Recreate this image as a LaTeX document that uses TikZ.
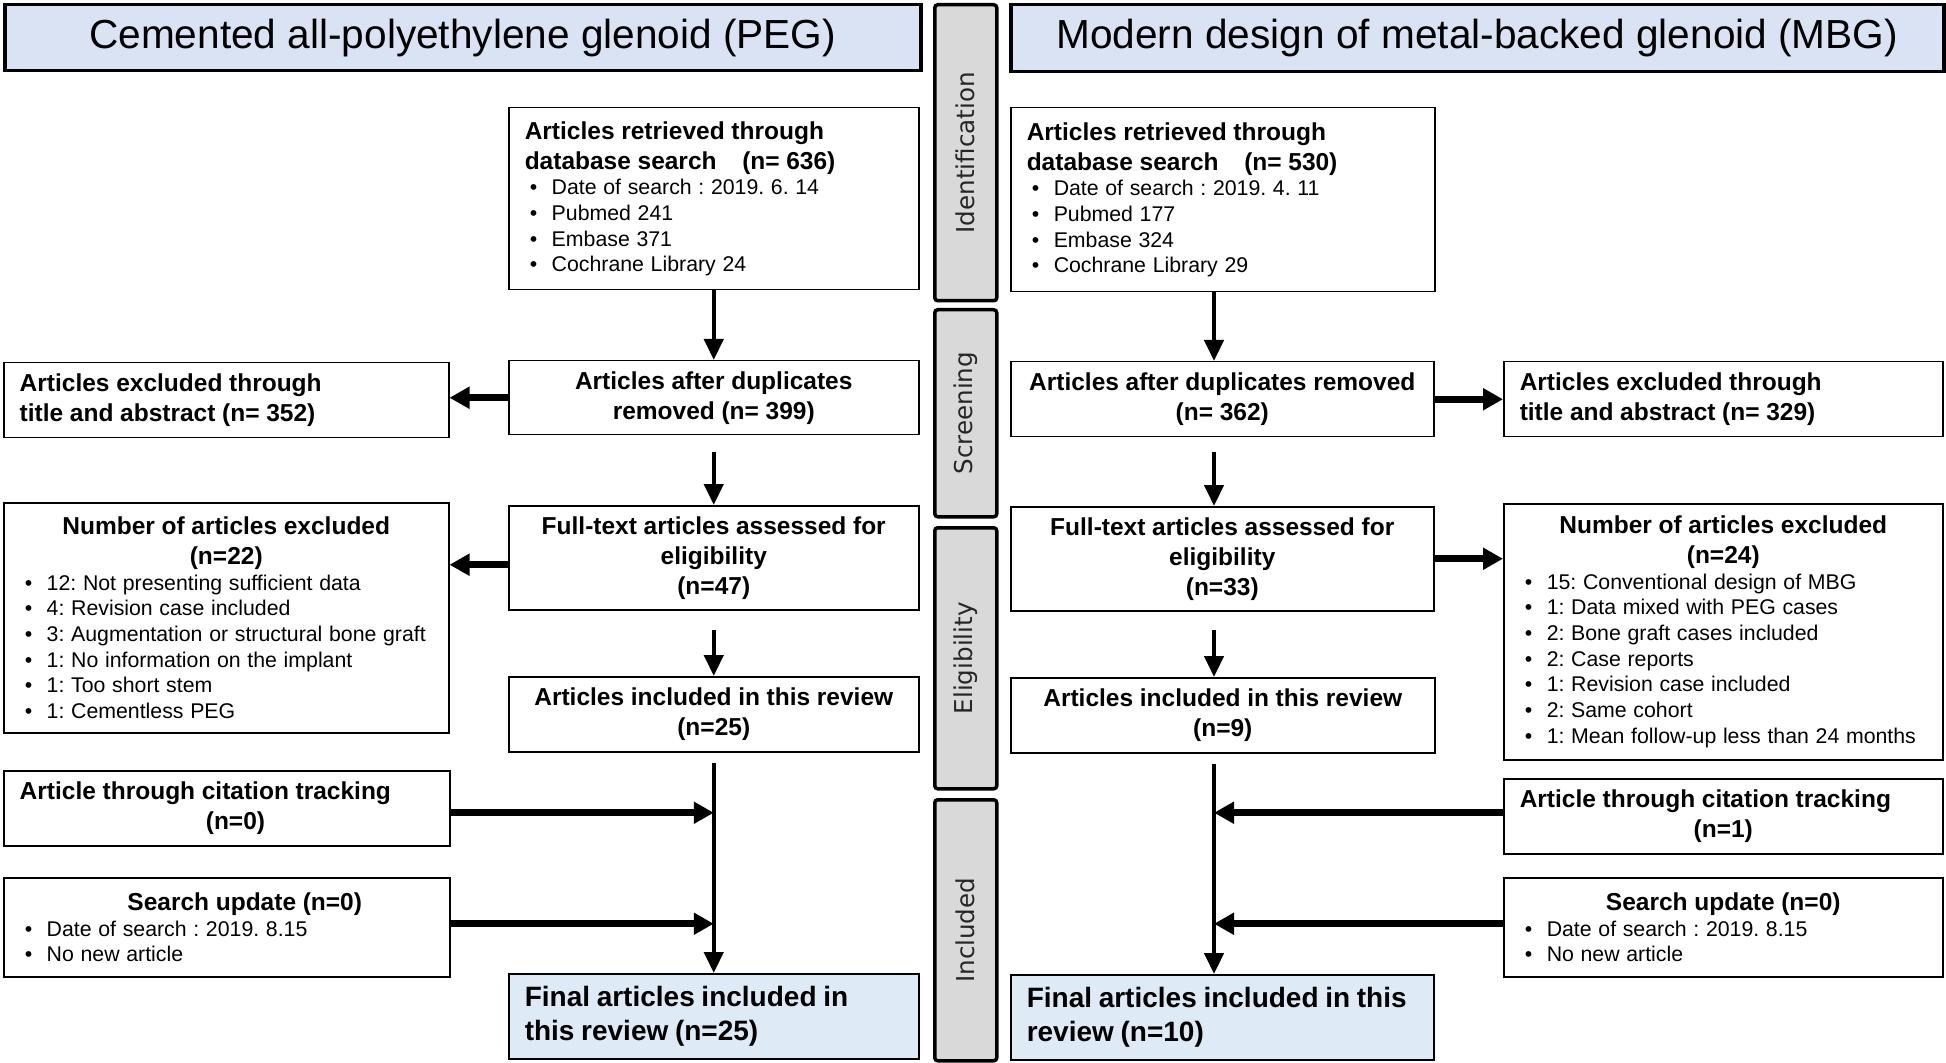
\documentclass[tikz,border=0pt]{standalone}
\usepackage{fontspec}
\setmainfont{Liberation Sans}
\newfontfamily\phasefont{DejaVu Sans}
\usetikzlibrary{arrows.meta,calc}
\definecolor{titlefill}{HTML}{DAE3F3}
\definecolor{finalfill}{HTML}{DEEBF7}
\definecolor{phasefill}{HTML}{D9D9D9}
\setlength{\parindent}{0pt}
\frenchspacing
\newcommand\hb{\fontsize{12.25pt}{15pt}\selectfont\bfseries}
\newcommand\bt{\fontsize{10.65pt}{12.85pt}\selectfont\mdseries}
\newcommand\fb{\fontsize{14pt}{17pt}\selectfont\bfseries}
\newcommand\bl[1]{\par\hspace*{2.5pt}\makebox[11pt][l]{\textbullet}#1}
\tikzset{
  box/.style={draw=black, line width=0.75pt, fill=white, anchor=north west, inner xsep=8pt, inner ysep=0pt, align=left},
  titlebox/.style={draw=black, line width=1.75pt, fill=titlefill, anchor=north west, inner sep=0pt, font=\fontsize{20.3pt}{24pt}\selectfont},
  phase/.style={draw=black, line width=1.75pt, fill=phasefill, rounded corners=1.5pt, anchor=north west, inner sep=0pt},
  phaselabel/.style={rotate=90, font=\phasefont\fontsize{12.3pt}{14pt}\selectfont, text=black!85},
  finalbox/.style={box, fill=finalfill},
  harr/.style={line width=3.4pt, -{Triangle[length=10pt,width=10.5pt]}},
  varr/.style={line width=2.2pt, -{Triangle[length=10.5pt,width=9.5pt]}},
}
\begin{document}
\frenchspacing
\begin{tikzpicture}[x=0.5pt,y=-0.5pt]
\useasboundingbox (0,0) rectangle (1946,1063);

% ---------- titles ----------
\node[titlebox, minimum width=458pt, minimum height=33pt] (ptitle) at (3,3) {Cemented all-polyethylene glenoid (PEG)};
\node[titlebox, minimum width=466.5pt, minimum height=33.5pt] (mtitle) at (1009,3) {Modern design of metal-backed glenoid (MBG)};

% ---------- phases ----------
\node[phase, minimum width=31pt, minimum height=148pt] (ph1) at (933,3) {};
\node[phaselabel] (ph1t) at (ph1.center) {Identification};
\node[phase, minimum width=31pt, minimum height=103.5pt] (ph2) at (933,308) {};
\node[phaselabel] (ph2t) at (ph2.center) {Screening};
\node[phase, minimum width=31pt, minimum height=130.5pt] (ph3) at (933,526) {};
\node[phaselabel] (ph3t) at (ph3.center) {Eligibility};
\node[phase, minimum width=31pt, minimum height=130.5pt] (ph4) at (933,798) {};
\node[phaselabel] (ph4t) at (ph4.center) {Included};

% ---------- PEG column ----------
\node[box, text width=189pt, minimum height=91pt] (p1) at (508,107)
 {{\hb Articles retrieved through\\database search\hspace{9.5pt} (n= 636)\par}\bt\bl{Date of search : 2019. 6. 14}\bl{Pubmed 241}\bl{Embase 371}\bl{Cochrane Library 24}\par};
\node[box, text width=206.5pt, minimum height=37.5pt] (pe1) at (3,362)
 {{\hb Articles excluded through\\title and abstract (n= 352)\par}};
\node[box, text width=189pt, minimum height=37pt] (p2) at (508,360)
 {{\centering\hb Articles after duplicates\\removed (n= 399)\par}};
\node[box, text width=206.5pt, minimum height=115pt] (pe2) at (3,502)
 {{\centering\hb Number of articles excluded\\(n=22)\par}\bt\bl{12: Not presenting sufficient data}\bl{4: Revision case included}\bl{3: Augmentation or structural bone graft}\bl{1: No information on the implant}\bl{1: Too short stem}\bl{1: Cementless PEG}\par};
\node[box, text width=189pt, minimum height=52pt] (p3) at (508,505)
 {{\centering\hb Full-text articles assessed for\\eligibility\\(n=47)\par}};
\node[box, text width=189pt, minimum height=37.5pt] (p4) at (508,676)
 {{\centering\hb Articles included in this review\\(n=25)\par}};
\node[box, text width=207pt, minimum height=37.5pt] (pc) at (3,770)
 {{\hb Article through citation tracking\par}{\centering\hb\hspace*{8.7pt}(n=0)\par}};
\node[box, text width=207pt, minimum height=49.5pt] (ps) at (3,877)
 {{\centering\hb\hspace*{18pt}Search update (n=0)\par}\bt\bl{Date of search : 2019. 8.15}\bl{No new article}\par};
\node[finalbox, text width=189pt, minimum height=42.5pt] (p5) at (508,973)
 {{\fb Final articles included in\\this review (n=25)\par}};

% ---------- MBG column ----------
\node[box, text width=196pt, minimum height=92pt] (m1) at (1010,107)
 {{\hb Articles retrieved through\\database search\hspace{9.5pt} (n= 530)\par}\bt\bl{Date of search : 2019. 4. 11}\bl{Pubmed 177}\bl{Embase 324}\bl{Cochrane Library 29}\par};
\node[box, text width=195.5pt, minimum height=37.5pt] (m2) at (1010,361)
 {{\centering\hb Articles after duplicates removed\\(n= 362)\par}};
\node[box, text width=203.5pt, minimum height=37.5pt] (me1) at (1503,361)
 {{\hb Articles excluded through\\title and abstract (n= 329)\par}};
\node[box, text width=195.5pt, minimum height=52pt] (m3) at (1010,506)
 {{\centering\hb Full-text articles assessed for\\eligibility\\(n=33)\par}};
\node[box, text width=203.5pt, minimum height=128pt] (me2) at (1503,503)
 {{\centering\hb Number of articles excluded\\(n=24)\par}\bt\bl{15: Conventional design of MBG}\bl{1: Data mixed with PEG cases}\bl{2: Bone graft cases included}\bl{2: Case reports}\bl{1: Revision case included}\bl{2: Same cohort}\bl{1: Mean follow-up less than 24 months}\par};
\node[box, text width=196pt, minimum height=37.5pt] (m4) at (1010,677)
 {{\centering\hb Articles included in this review\\(n=9)\par}};
\node[box, text width=203.5pt, minimum height=37.5pt] (mc) at (1503,778)
 {{\hb Article through citation tracking\par}{\centering\hb (n=1)\par}};
\node[box, text width=203.5pt, minimum height=49.5pt] (ms) at (1503,877)
 {{\centering\hb Search update (n=0)\par}\bt\bl{Date of search : 2019. 8.15}\bl{No new article}\par};
\node[finalbox, text width=195.5pt, minimum height=42.5pt] (m5) at (1010,974)
 {{\fb Final articles included in this\\review (n=10)\par}};

% ---------- PEG connectors ----------
\draw[varr] (p1.south) -- (p2.north);
\draw[varr, shorten <=8pt] (p2.south) -- (p3.north);
\draw[varr, shorten <=9.5pt] (p3.south) -- (p4.north);
\draw[harr] (p2.west) -- (p2.west -| pe1.east);
\draw[harr] ([yshift=-3.5pt]p3.west) -- ([yshift=-3.5pt]p3.west -| pe2.east);
\draw[varr, shorten <=5pt] (p4.south) -- (p5.north);
\draw[harr] ([yshift=-2.25pt]pc.east) -- ([yshift=-2.25pt]pc.east -| p4.south);
\draw[harr] ([yshift=1.75pt]ps.east) -- ([yshift=1.75pt]ps.east -| p4.south);

% ---------- MBG connectors ----------
\coordinate (mx) at (1214,0);
\draw[varr] (m1.south -| mx) -- (m2.north -| mx);
\draw[varr, shorten <=7pt] (m2.south -| mx) -- (m3.north -| mx);
\draw[varr, shorten <=9pt] (m3.south -| mx) -- (m4.north -| mx);
\draw[harr] (m2.east) -- (m2.east -| me1.west);
\draw[harr] (m3.east) -- (m3.east -| me2.west);
\draw[varr, shorten <=5pt] (m4.south -| mx) -- (m5.north -| mx);
\draw[harr] ([yshift=1.75pt]mc.west) -- ([yshift=1.75pt]mc.west -| mx);
\draw[harr] ([yshift=1.75pt]ms.west) -- ([yshift=1.75pt]ms.west -| mx);
\end{tikzpicture}
\end{document}
